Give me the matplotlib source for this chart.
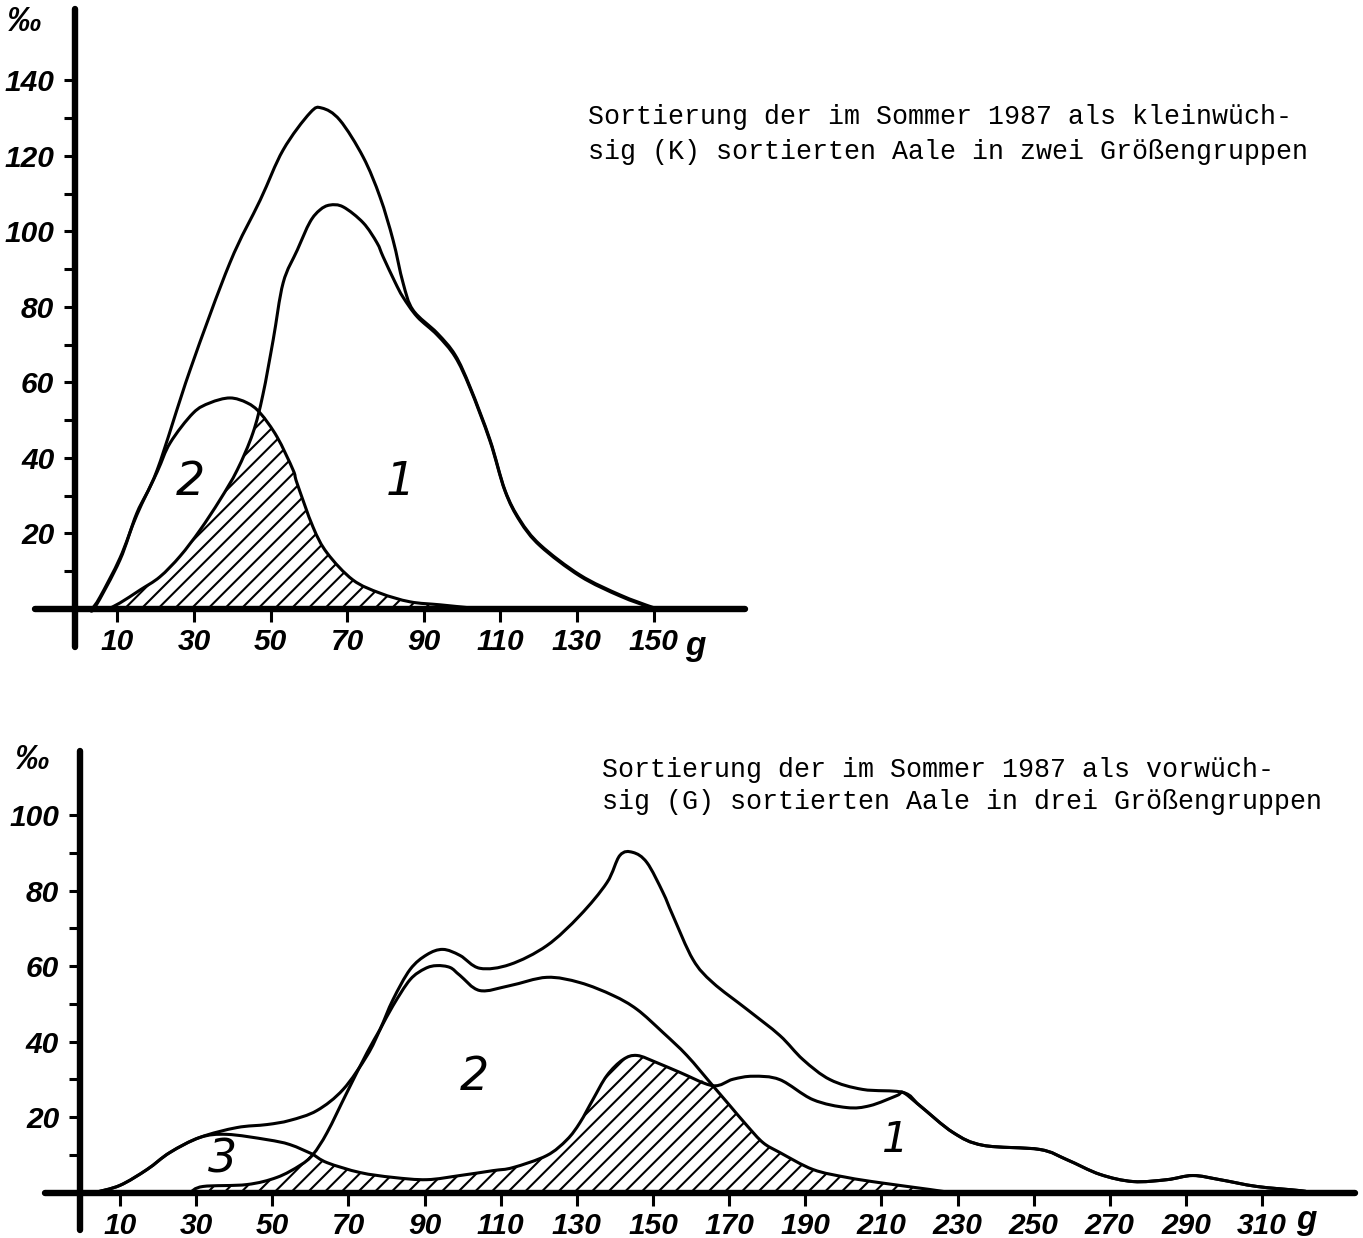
import matplotlib
matplotlib.use('Agg')
import numpy as np
import matplotlib.pyplot as plt
from matplotlib.path import Path
from matplotlib.patches import PathPatch

# ---- oberes Diagramm: kleinwuechsig (K), zwei Gruppen ----
top_total_g = [2.9, 4.2, 10.7, 15.1, 20.4, 29, 39.4, 47.3, 53.3, 60.3, 63.4, 68.1, 74.2, 78.6, 82,
               84.6, 87.2, 93.5, 98.2, 102.1, 107.3, 111.2, 115.1, 120.4, 130.8, 141.3, 149.6, 151.7]
top_total_v = [0, 0.5, 13, 25.4, 36.8, 63.3, 91.7, 108.3, 121.6, 131.4, 132.7, 129.5, 119.7, 109.1, 97.7,
               86.4, 79.2, 73.1, 67.3, 58.8, 44.8, 31.5, 23.6, 17, 9, 3.7, 0.5, 0]

top_g1_g = [7.6, 10.7, 15.9, 21.1, 26.4, 31.6, 36.8, 41.3, 45.4, 48, 50.7, 53.3, 57, 60.3, 62.9, 65.5, 69,
            74.2, 77.8, 79.4, 82.5, 84.6, 88.3, 93.5, 98.2, 102.1, 107.3, 111.2, 115.1, 120.4, 130.8,
            141.3, 149.6, 151.7]
top_g1_v = [0, 1.6, 5, 8.5, 14, 20.9, 28.9, 36.8, 46.6, 56.7, 71.3, 86.4, 95.1, 102.5, 105.7, 107, 106.5,
            102.3, 97, 93.3, 86.6, 82.6, 77.4, 72.6, 66.8, 58.5, 44.5, 31.3, 23.3, 16.7, 8.7,
            3.4, 0.3, 0]

top_g2_g = [3.4, 5.5, 10.7, 15.1, 20.4, 23.8, 29.8, 34.2, 39.4, 43.9, 47.3, 51.7, 55.9, 56.9, 61.1, 64.8,
            71.5, 78.6, 86.4, 94.3, 102, 104.7]
top_g2_v = [0, 3.2, 13.5, 24.9, 36.3, 44, 51.9, 54.6, 55.9, 54.6, 51.9, 45.6, 36.8, 33.4, 21.7, 14.8,
            7.7, 4.2, 1.9, 1.1, 0.3, 0]

# schraffierte Ueberschneidung
top_hatch_g = [7.6, 10.7, 15.9, 21.1, 26.4, 31.6, 36.8, 41.3, 45.4, 47.3, 51.7, 55.9, 56.9, 61.1, 64.8,
               71.5, 78.6, 86.4, 94.3, 102, 104.7]
top_hatch_v = [0, 1.6, 5, 8.5, 14, 20.9, 28.9, 36.8, 46.6, 51.9, 45.6, 36.8, 33.4, 21.7, 14.8,
               7.7, 4.2, 1.9, 1.1, 0.3, 0]

top_xticks = [10, 30, 50, 70, 90, 110, 130, 150]
top_yticks = [20, 40, 60, 80, 100, 120, 140]
top_yminor = [10, 30, 50, 70, 90, 110, 130]

# ---- unteres Diagramm: vorwuechsig (G), drei Gruppen ----
bot_total_g = [3.4, 10, 17.1, 23.1, 31, 40.7, 48.6, 54.6, 61.7, 68.6, 74.9, 78.3, 81.7, 86.2, 90.6, 94.8,
               99.3, 104.5, 112.4, 122.1, 130.8, 137.9, 141.3, 144.7, 148.4, 152.6, 155.2, 160.5, 165.7,
               174.7, 183.3, 189.4, 196.5, 205.1, 215.7, 220.1, 228.8, 236.7, 251.6, 258.7, 267.4,
               276.1, 285, 291.8, 298.9, 308.6, 319.9, 322.6]
bot_total_v = [0, 1.9, 6.1, 10.6, 14.6, 17.2, 18, 19.1, 21.7, 27.3, 36.3, 43.2, 51.1, 59.1, 63, 64.4,
               62.8, 59.4, 60.4, 65.4, 73.4, 82.1, 89.3, 90.1, 87.4, 79.5, 73.4, 61.7, 55.6,
               48.5, 41.6, 35.2, 29.9, 27.3, 26.5, 23, 15.9, 12.5, 11.4, 8.7, 4.8,
               2.9, 3.4, 4.5, 3.4, 1.6, 0.5, 0]

bot_g3_g = [3.4, 10, 17.1, 23.1, 31, 38.1, 48.6, 54.6, 60.7]
bot_g3_v = [0, 1.9, 6.1, 10.6, 14.6, 15.4, 14, 12.7, 10.1]

bot_g1_g = [60.7, 64.4, 73, 81.7, 90.6, 99.3, 108, 113.2, 122.1, 127.4, 130.8, 134.2, 137.9, 142.1,
            145.8, 151, 157.1, 165.7, 171, 176.3, 183.3, 192, 200.9, 207, 214.1, 215.7, 220.1, 228.8,
            236.7, 251.6, 258.7, 267.4, 276.1, 285, 291.8, 298.9, 308.6, 319.9, 322.6]
bot_g1_v = [10.1, 7.9, 5.3, 4, 3.4, 4.5, 5.8, 6.6, 9.8, 14, 18.5, 24.6, 31, 35.2,
            36.3, 34.4, 31.8, 28.3, 30, 30.8, 29.9, 24.6, 22.5, 23, 25.7, 26.5, 23, 15.9,
            12.5, 11.4, 8.7, 4.8, 2.9, 3.4, 4.5, 3.4, 1.6, 0.5, 0]

bot_g2_g = [28.4, 31.8, 43.3, 51.2, 57.3, 60.7, 64.4, 69.6, 74.9, 78.3, 81.7, 86.2, 90.1, 93.2, 96.7,
            99.3, 104.5, 112.4, 122.1, 130.8, 139.5, 145.8, 152.6, 158.9, 165.7, 170.2, 174.7, 178.9,
            183.3, 192, 200.9, 209.6, 222.7, 228]
bot_g2_v = [0, 1.6, 2.1, 4, 7.2, 10.1, 15.9, 26.5, 37.1, 43.2, 49.5, 56.4, 59.3, 60.1, 59.6,
            57.5, 53.5, 54.8, 57, 55.6, 52.2, 48.5, 42.4, 36.3, 28.3, 23, 17.7, 13.2,
            10.6, 6.1, 4, 2.6, 0.8, 0]

bot_hatch_g = [31.8, 43.3, 51.2, 57.3, 60.7, 64.4, 73, 81.7, 90.6, 99.3, 108, 113.2, 122.1, 127.4, 130.8,
               134.2, 137.9, 142.1, 145.8, 151, 157.1, 165.7, 170.2, 174.7, 178.9, 183.3, 192, 200.9,
               209.6, 222.7, 228]
bot_hatch_v = [1.6, 2.1, 4, 7.2, 10.1, 7.9, 5.3, 4, 3.4, 4.5, 5.8, 6.6, 9.8, 14, 18.5,
               24.6, 31, 35.2, 36.3, 34.4, 31.8, 28.3, 23, 17.7, 13.2, 10.6, 6.1, 4,
               2.6, 0.8, 0]

bot_xticks = [10, 30, 50, 70, 90, 110, 130, 150, 170, 190, 210, 230, 250, 270, 290, 310]
bot_yticks = [20, 40, 60, 80, 100]
bot_yminor = [10, 30, 50, 70, 90]

text_top = ["Sortierung der im Sommer 1987 als kleinwüch-",
            "sig (K) sortierten Aale in zwei Größengruppen"]
text_bot = ["Sortierung der im Sommer 1987 als vorwüch-",
            "sig (G) sortierten Aale in drei Größengruppen"]

plt.rcParams['hatch.linewidth'] = 1.5
LW = 2.2
tickfont = dict(family=['Liberation Sans', 'DejaVu Sans'], style='italic', weight='bold', size=21.5)


def smooth_path(xs, ys, close=False):
    pts = np.column_stack([xs, ys]).astype(float)
    n = len(pts)
    verts = [pts[0]]
    codes = [Path.MOVETO]
    for i in range(n - 1):
        p0 = pts[max(i - 1, 0)]
        p1 = pts[i]
        p2 = pts[i + 1]
        p3 = pts[min(i + 2, n - 1)]
        verts += [p1 + (p2 - p0) / 6, p2 - (p3 - p1) / 6, p2]
        codes += [Path.CURVE4] * 3
    if close:
        verts += [(xs[-1], 0), (xs[0], 0), (xs[0], 0)]
        codes += [Path.LINETO, Path.LINETO, Path.CLOSEPOLY]
    return Path(verts, codes)


def curve(ax, xs, ys):
    ax.add_patch(PathPatch(smooth_path(xs, ys), fill=False, edgecolor='black', lw=LW,
                           joinstyle='round', capstyle='round'))


def hatch(ax, xs, ys):
    ax.add_patch(PathPatch(smooth_path(xs, ys, close=True), facecolor='none', edgecolor='black',
                           lw=0, hatch='//'))


def setup_axes(ax, xlim, ylim, yspine_x, xbounds, ybounds, xticks, yticks, yminor):
    ax.set_xlim(*xlim)
    ax.set_ylim(*ylim)
    for s in ['top', 'right']:
        ax.spines[s].set_visible(False)
    ax.spines['left'].set_position(('data', yspine_x))
    ax.spines['bottom'].set_position(('data', 0))
    ax.spines['left'].set_bounds(*ybounds)
    ax.spines['bottom'].set_bounds(*xbounds)
    for s in ['left', 'bottom']:
        ax.spines[s].set_linewidth(4.6)
        ax.spines[s].set_capstyle('round')
        ax.spines[s].set_zorder(5)
    ax.set_xticks(xticks)
    ax.set_xticklabels([str(t) for t in xticks], fontdict=tickfont)
    ax.set_yticks(yticks)
    ax.set_yticklabels([str(t) for t in yticks], fontdict=tickfont)
    ax.set_yticks(yminor, minor=True)
    ax.tick_params(axis='x', direction='out', length=9, width=2.2, pad=5)
    ax.tick_params(axis='y', which='both', direction='out', length=8, width=2.2, pad=7)
    ax.patch.set_visible(False)


fig = plt.figure(figsize=(13.63, 12.38), dpi=100)

# oben
ax1 = fig.add_axes([0.02424, 0.47456, 0.5283, 0.52141])
setup_axes(ax1, (-12, 176), (-11, 160), -1, (-11.5, 174), (-10, 159),
           top_xticks, top_yticks, top_yminor)
hatch(ax1, top_hatch_g, top_hatch_v)
curve(ax1, top_total_g, top_total_v)
curve(ax1, top_g1_g, top_g1_v)
curve(ax1, top_g2_g, top_g2_v)
ax1.text(29.2, 33.4, '2', fontsize=33, style='italic', ha='center', va='center')
ax1.text(83.8, 33.4, '1', fontsize=33, style='italic', ha='center', va='center')
ax1.text(-14.4, 155.5, '‰', fontdict=dict(tickfont, size=25), ha='center', va='center', clip_on=False)
ax1.text(161, -10, 'g', fontdict=dict(tickfont, size=24), ha='center', va='center', clip_on=False)

# unten
ax2 = fig.add_axes([0.02663, 0.00016, 0.96919, 0.4025])
setup_axes(ax2, (-12, 335), (-12, 120), -0.5, (-9.7, 334.4), (-10, 117),
           bot_xticks, bot_yticks, bot_yminor)
hatch(ax2, bot_hatch_g, bot_hatch_v)
curve(ax2, bot_total_g, bot_total_v)
curve(ax2, bot_g3_g, bot_g3_v)
curve(ax2, bot_g1_g, bot_g1_v)
curve(ax2, bot_g2_g, bot_g2_v)
ax2.text(103.2, 30.5, '2', fontsize=33, style='italic', ha='center', va='center')
ax2.text(36.8, 8.6, '3', fontsize=33, style='italic', ha='center', va='center')
ax2.text(213.6, 13.9, '1', fontsize=30, style='italic', ha='center', va='center')
ax2.text(-13.1, 114.6, '‰', fontdict=dict(tickfont, size=25), ha='center', va='center', clip_on=False)
ax2.text(321.5, -7.5, 'g', fontdict=dict(tickfont, size=24), ha='center', va='center', clip_on=False)

# Beschriftungen (Schreibmaschine)
mono = dict(family='Liberation Mono', size=19.2, ha='left', va='center')
fig.text(588 / 1363, 1 - 117 / 1238, text_top[0], **mono)
fig.text(588 / 1363, 1 - 152 / 1238, text_top[1], **mono)
fig.text(602 / 1363, 1 - 770 / 1238, text_bot[0], **mono)
fig.text(602 / 1363, 1 - 802 / 1238, text_bot[1], **mono)

fig.savefig('out.png', dpi=100, facecolor='white')
